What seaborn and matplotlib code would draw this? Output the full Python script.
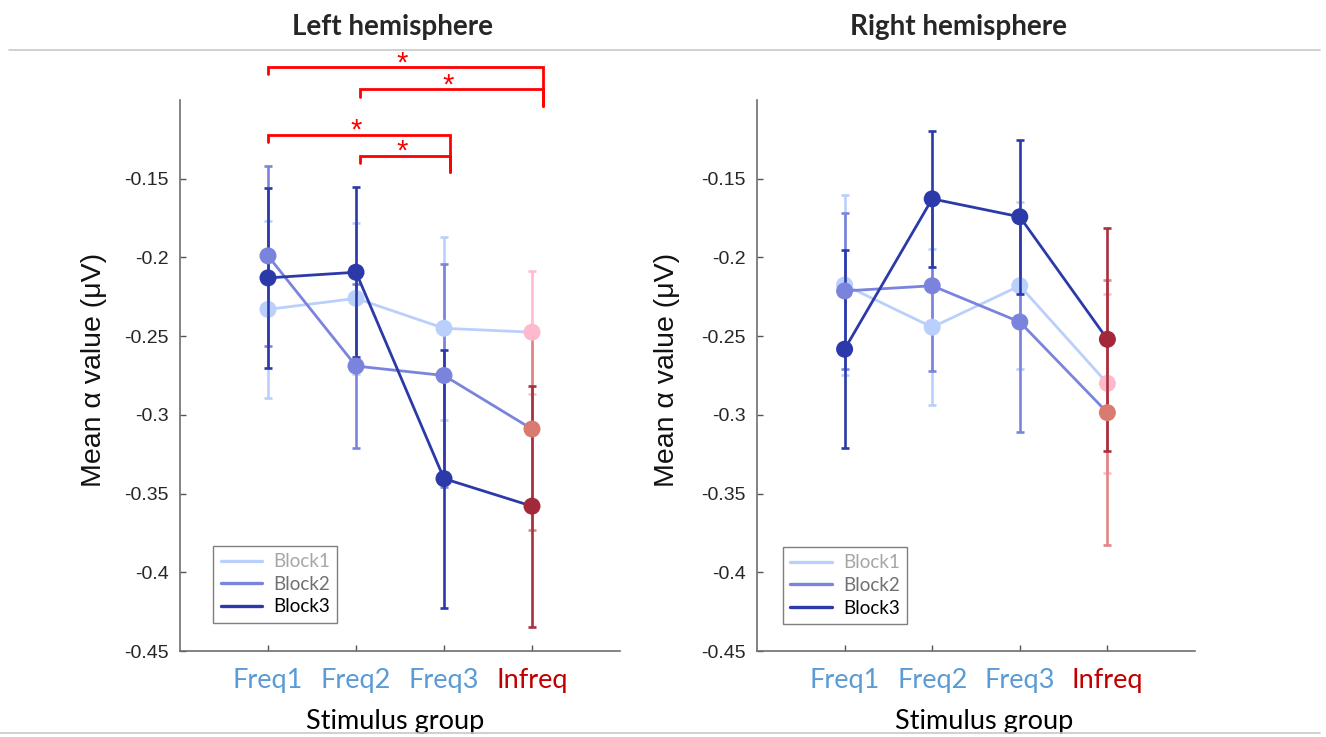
import numpy as np
import pandas as pd
import seaborn as sns
import matplotlib
matplotlib.use("Agg")
import matplotlib.pyplot as plt
from matplotlib.lines import Line2D

# ---------------- data ----------------
groups = ["Freq1", "Freq2", "Freq3", "Infreq"]
blocks = ["Block1", "Block2", "Block3"]

left_mean_b1 = [-0.233, -0.226, -0.245, -0.2475]
left_err_b1 = [0.056, 0.048, 0.058, 0.039]
left_mean_b2 = [-0.199, -0.269, -0.275, -0.309]
left_err_b2 = [0.057, 0.052, 0.071, 0.064]
left_mean_b3 = [-0.213, -0.2094, -0.3405, -0.358]
left_err_b3 = [0.057, 0.054, 0.082, 0.0765]

right_mean_b1 = [-0.2175, -0.2443, -0.218, -0.280]
right_err_b1 = [0.057, 0.0495, 0.053, 0.057]
right_mean_b2 = [-0.2213, -0.218, -0.241, -0.2986]
right_err_b2 = [0.0497, 0.054, 0.070, 0.084]
right_mean_b3 = [-0.2583, -0.1628, -0.1742, -0.252]
right_err_b3 = [0.063, 0.0434, 0.049, 0.071]

yticks = [-0.45, -0.4, -0.35, -0.3, -0.25, -0.2, -0.15]

# significance brackets on left panel: (from group, to group)
sig_pairs = [("Freq1", "Infreq"), ("Freq2", "Infreq"), ("Freq1", "Freq3"), ("Freq2", "Freq3")]
sig_levels = [-0.0793, -0.0933, -0.122, -0.1354]

# ---------------- styles ----------------
series_colors = ["#bad0fc", "#7a84dc", "#2b3aa8"]
infreq_marker_colors = ["#ffb9cc", "#d97b70", "#a3283a"]
infreq_err_colors = ["#ffbdcd", "#e08686", "#a8303f"]
legend_text_colors = ["#a6a6a6", "#707070", "#000000"]
tick_colors = ["#5b9bd5", "#5b9bd5", "#5b9bd5", "#c00000"]

sns.set_theme(style="white")
plt.rcParams["font.family"] = ["Liberation Sans", "DejaVu Sans"]
CAL = ["Lato", "DejaVu Sans"]


def make_df(means, errs):
    rows = []
    for b, m, e in zip(blocks, means, errs):
        for i, g in enumerate(groups):
            rows.append({"block": b, "group": g, "x": i + 1, "mean": m[i], "err": e[i]})
    return pd.DataFrame(rows)


df_left = make_df([left_mean_b1, left_mean_b2, left_mean_b3],
                  [left_err_b1, left_err_b2, left_err_b3])
df_right = make_df([right_mean_b1, right_mean_b2, right_mean_b3],
                   [right_err_b1, right_err_b2, right_err_b3])

fig = plt.figure(figsize=(13.26, 7.37), dpi=100)
W, H = 1326, 737
axL = fig.add_axes([180 / W, 86 / H, 440 / W, 551 / H])
axR = fig.add_axes([757 / W, 86 / H, 438 / W, 551 / H])


def draw(ax, df, legend_anchor, ylab_x, xlab_x):
    for k, b in enumerate(blocks):
        sub = df[df["block"] == b]
        for _, r in sub.iterrows():
            col = infreq_err_colors[k] if r["group"] == "Infreq" else series_colors[k]
            ax.errorbar(r["x"], r["mean"], yerr=r["err"], fmt="none", ecolor=col,
                        elinewidth=1.9, capsize=2.6, capthick=1.9, zorder=2 + k)
        sns.lineplot(data=sub, x="x", y="mean", color=series_colors[k], linewidth=2.0,
                     ax=ax, legend=False, zorder=3 + k, errorbar=None)
        mcols = [infreq_marker_colors[k] if g == "Infreq" else series_colors[k]
                 for g in sub["group"]]
        ax.scatter(sub["x"], sub["mean"], s=150, c=mcols, edgecolors="none", zorder=3.5 + k)

    ax.set_xlim(0, 5)
    ax.set_ylim(-0.45, -0.1)
    ax.set_yticks(yticks)
    ax.set_yticklabels(["%g" % t for t in yticks])
    ax.set_xticks(range(1, len(groups) + 1))
    ax.set_xticklabels(groups)
    for lab, c in zip(ax.get_xticklabels(), tick_colors):
        lab.set_color(c)
        lab.set_fontfamily(CAL)
        lab.set_fontsize(19.5)
    ax.tick_params(axis="y", direction="in", length=4, width=1, color="#555555",
                   labelsize=14, labelcolor="#262626", pad=8, left=True)
    ax.tick_params(axis="x", direction="in", length=4, width=1, color="#555555",
                   pad=12, bottom=True)
    for s in ["top", "right"]:
        ax.spines[s].set_visible(False)
    for s in ["left", "bottom"]:
        ax.spines[s].set_color("#6e6e6e")
        ax.spines[s].set_linewidth(1.2)
    ax.set_ylabel("Mean α value (μV)", fontsize=20.5, color="#111111")
    ax.yaxis.set_label_coords(ylab_x, 0.51)
    ax.set_xlabel("Stimulus group", fontsize=19.5, fontfamily=CAL, color="#000000",
                  va="center")
    ax.xaxis.set_label_coords(xlab_x, -0.128)
    ax.grid(False)

    handles = [Line2D([0], [0], color=series_colors[k], linewidth=2.4) for k in range(3)]
    leg = ax.legend(handles, blocks, loc="lower left", bbox_to_anchor=legend_anchor,
                    borderaxespad=0, fancybox=False, framealpha=1, edgecolor="#7f7f7f",
                    prop={"family": CAL, "size": 13.5}, handlelength=2.2, handletextpad=0.6,
                    labelspacing=0.3, borderpad=0.4)
    leg.get_frame().set_linewidth(1.0)
    for t, c in zip(leg.get_texts(), legend_text_colors):
        t.set_color(c)


draw(axL, df_left, (0.075, 0.051), -0.166, 0.489)
draw(axR, df_right, (0.059, 0.049), -0.176, 0.518)

# significance brackets
gx = {g: i + 1 for i, g in enumerate(groups)}
right_off = {"Infreq": 0.12, "Freq3": 0.07}
left_off = {"Freq1": 0.0, "Freq2": 0.045}
right_drop = {"Infreq": -0.104, "Freq3": -0.1455}
for (a, b), yl in zip(sig_pairs, sig_levels):
    x0 = gx[a] + left_off[a]
    x1 = gx[b] + right_off[b]
    axL.plot([x0, x0, x1, x1], [yl - 0.0045, yl, yl, right_drop[b]],
             color="#ff0000", linewidth=2.0, clip_on=False, solid_joinstyle="miter", zorder=10)
    axL.text((x0 + x1) / 2 - 0.03, yl + 0.0025, "*", color="#ff0000", fontsize=21,
             ha="center", va="center", clip_on=False,
             fontfamily=["Liberation Sans", "DejaVu Sans"])

# titles
fig.text(393 / W, 1 - 27 / H, "Left hemisphere", ha="center", va="center",
         fontsize=20, fontweight="bold", fontfamily=CAL)
fig.text(958 / W, 1 - 27 / H, "Right hemisphere", ha="center", va="center",
         fontsize=20, fontweight="bold", fontfamily=CAL)

# slide separator lines
fig.add_artist(Line2D([9 / W, 1320 / W], [1 - 50 / H, 1 - 50 / H], transform=fig.transFigure,
                      color="#c8c8c8", linewidth=1.2))
fig.add_artist(Line2D([0, 1320 / W], [1 - 733 / H, 1 - 733 / H], transform=fig.transFigure,
                      color="#c8c8c8", linewidth=1.2))

fig.savefig("out.png", dpi=100)
